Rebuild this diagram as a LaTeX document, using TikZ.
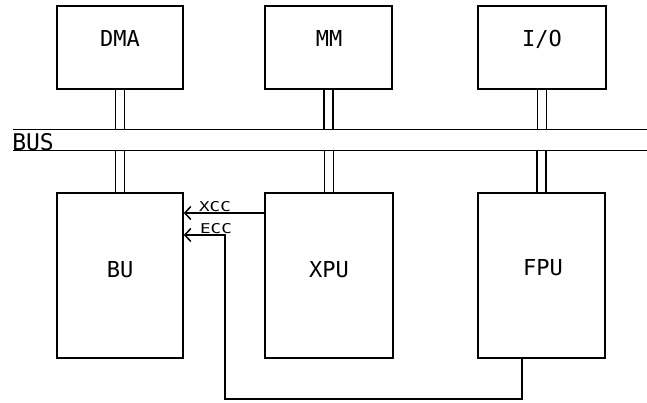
\documentclass[tikz,border=0pt]{standalone}
\usepackage{fontspec}
\setmainfont{DejaVu Sans Mono}
\usetikzlibrary{arrows.meta}
\begin{document}
\begin{tikzpicture}[x=1pt,y=-1pt,line width=1.6pt,
  box/.style={draw,rectangle,inner sep=0pt},
  upper/.style={box,minimum height=83pt},
  lower/.style={box,minimum height=165pt},
  lbl/.style={anchor=base,inner sep=0pt,font=\fontsize{22}{22}\selectfont},
  sig/.style={anchor=base,inner sep=0pt,font=\fontsize{13.5}{13.5}\selectfont},
  dbl/.style={double,double distance=7.4pt},
  arr/.style={-{Straight Barb[length=6pt,width=13pt,line width=1.5pt]}}]
\useasboundingbox (0,0) rectangle (647,403);
% upper boxes
\node[upper,minimum width=126pt] (dma) at (120,47.5) {};
\node[upper,minimum width=127pt] (mm) at (328.5,47.5) {};
\node[upper,minimum width=128pt] (io) at (542,47.5) {};
% lower boxes
\node[lower,minimum width=126pt] (bu) at (120,275.5) {};
\node[lower,minimum width=128pt] (xpu) at (329,275.5) {};
\node[lower,minimum width=127pt] (fpu) at (541.5,275.5) {};
% labels
\node[lbl] (dmat) at (120,47) {DMA};
\node[lbl] (mmt) at (329,47) {MM};
\node[lbl] (iot) at (542,47) {I/O};
\node[lbl] (but) at (120,277) {BU};
\node[lbl] (xput) at (329,277) {XPU};
\node[lbl] (fput) at (543,275) {FPU};
% bus
\coordinate (btl) at (13,129.5);
\coordinate (btr) at (647,129.5);
\coordinate (bbl) at (13,150.5);
\coordinate (bbr) at (647,150.5);
\draw (btl) -- (btr);
\draw (bbl) -- (bbr);
\node[anchor=base west,inner sep=0pt,font=\fontsize{23}{23}\selectfont] (bus) at (11.5,151) {BUS};
% bus connections
\draw[dbl,shorten >=0.8pt] (dma.south) -- (dma.south |- btl);
\draw[dbl,shorten >=0.8pt] (mm.south) -- (mm.south |- btl);
\draw[dbl,shorten >=0.8pt] (io.south) -- (io.south |- btl);
\draw[dbl,shorten <=0.8pt] (bu.north |- bbl) -- (bu.north);
\draw[dbl,shorten <=0.8pt] (xpu.north |- bbl) -- (xpu.north);
\draw[dbl,shorten <=0.8pt] (fpu.north |- bbl) -- (fpu.north);
% XCC
\coordinate (xccy) at (0,213);
\draw[arr] (xpu.west |- xccy) -- (bu.east |- xccy);
\node[sig] (xcc) at (215,211.5) {\scalebox{1.3}[1]{XCC}};
% ECC
\coordinate (eccc) at (225,235);
\coordinate (ebot) at (225,399);
\draw[arr] ([xshift=-19.5pt]fpu.south) |- (ebot) -- (eccc) -- (bu.east |- eccc);
\node[sig] (ecc) at (216,233.5) {\scalebox{1.3}[1]{ECC}};
\end{tikzpicture}
\end{document}
